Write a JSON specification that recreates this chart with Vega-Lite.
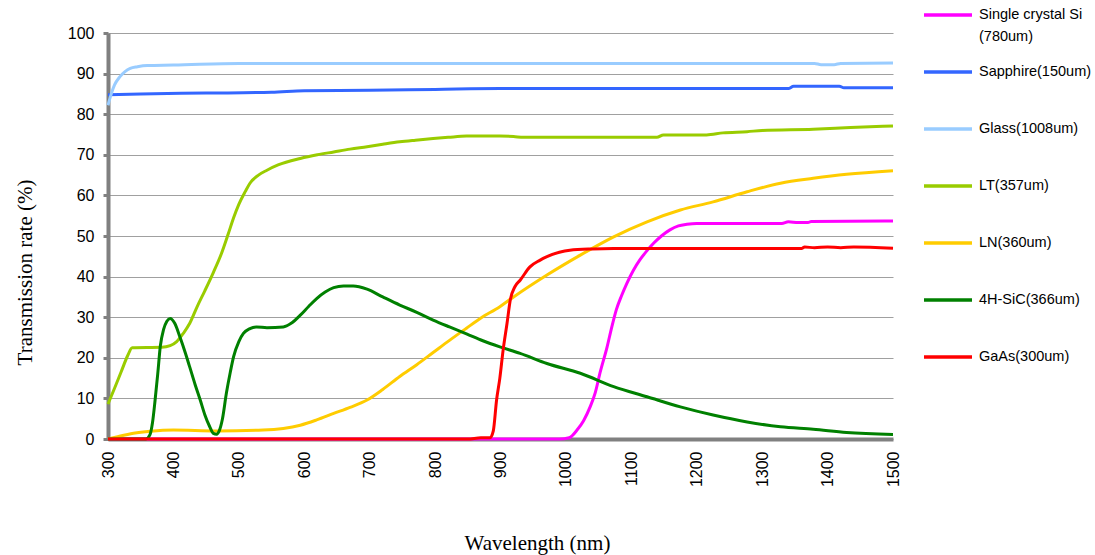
{
  "$schema": "https://vega.github.io/schema/vega-lite/v6.json",
  "width": 785,
  "height": 406,
  "autosize": {"type": "none"},
  "padding": {"left": 108, "top": 33, "right": 202, "bottom": 116},
  "background": "white",
  "datasets": {
    "curves": [
      {"s": "Single crystal Si (780um)", "w": 300, "t": 0},
      {"s": "Single crystal Si (780um)", "w": 990, "t": 0},
      {"s": "Single crystal Si (780um)", "w": 1005, "t": 0.3},
      {"s": "Single crystal Si (780um)", "w": 1017, "t": 2.2},
      {"s": "Single crystal Si (780um)", "w": 1027, "t": 4.5},
      {"s": "Single crystal Si (780um)", "w": 1037, "t": 7.9},
      {"s": "Single crystal Si (780um)", "w": 1045, "t": 11.5},
      {"s": "Single crystal Si (780um)", "w": 1052, "t": 16.2},
      {"s": "Single crystal Si (780um)", "w": 1063, "t": 22.7},
      {"s": "Single crystal Si (780um)", "w": 1070, "t": 27.5},
      {"s": "Single crystal Si (780um)", "w": 1077, "t": 31.8},
      {"s": "Single crystal Si (780um)", "w": 1085, "t": 35.3},
      {"s": "Single crystal Si (780um)", "w": 1093, "t": 38.3},
      {"s": "Single crystal Si (780um)", "w": 1103, "t": 41.5},
      {"s": "Single crystal Si (780um)", "w": 1113, "t": 44.1},
      {"s": "Single crystal Si (780um)", "w": 1124, "t": 46.4},
      {"s": "Single crystal Si (780um)", "w": 1134, "t": 48.2},
      {"s": "Single crystal Si (780um)", "w": 1146, "t": 50.0},
      {"s": "Single crystal Si (780um)", "w": 1159, "t": 51.5},
      {"s": "Single crystal Si (780um)", "w": 1172, "t": 52.5},
      {"s": "Single crystal Si (780um)", "w": 1185, "t": 52.9},
      {"s": "Single crystal Si (780um)", "w": 1200, "t": 53.1},
      {"s": "Single crystal Si (780um)", "w": 1330, "t": 53.1},
      {"s": "Single crystal Si (780um)", "w": 1340, "t": 53.5},
      {"s": "Single crystal Si (780um)", "w": 1355, "t": 53.3},
      {"s": "Single crystal Si (780um)", "w": 1370, "t": 53.3},
      {"s": "Single crystal Si (780um)", "w": 1375, "t": 53.6},
      {"s": "Single crystal Si (780um)", "w": 1500, "t": 53.7},

      {"s": "Sapphire(150um)", "w": 300, "t": 84.8},
      {"s": "Sapphire(150um)", "w": 350, "t": 85.0},
      {"s": "Sapphire(150um)", "w": 450, "t": 85.2},
      {"s": "Sapphire(150um)", "w": 550, "t": 85.4},
      {"s": "Sapphire(150um)", "w": 600, "t": 85.8},
      {"s": "Sapphire(150um)", "w": 700, "t": 85.9},
      {"s": "Sapphire(150um)", "w": 800, "t": 86.1},
      {"s": "Sapphire(150um)", "w": 900, "t": 86.3},
      {"s": "Sapphire(150um)", "w": 1340, "t": 86.3},
      {"s": "Sapphire(150um)", "w": 1348, "t": 86.9},
      {"s": "Sapphire(150um)", "w": 1418, "t": 86.9},
      {"s": "Sapphire(150um)", "w": 1425, "t": 86.5},
      {"s": "Sapphire(150um)", "w": 1500, "t": 86.5},

      {"s": "Glass(1008um)", "w": 300, "t": 82.2},
      {"s": "Glass(1008um)", "w": 305, "t": 85.0},
      {"s": "Glass(1008um)", "w": 310, "t": 87.2},
      {"s": "Glass(1008um)", "w": 318, "t": 89.2},
      {"s": "Glass(1008um)", "w": 326, "t": 90.5},
      {"s": "Glass(1008um)", "w": 334, "t": 91.3},
      {"s": "Glass(1008um)", "w": 345, "t": 91.7},
      {"s": "Glass(1008um)", "w": 360, "t": 92.0},
      {"s": "Glass(1008um)", "w": 400, "t": 92.1},
      {"s": "Glass(1008um)", "w": 500, "t": 92.5},
      {"s": "Glass(1008um)", "w": 1380, "t": 92.5},
      {"s": "Glass(1008um)", "w": 1390, "t": 92.2},
      {"s": "Glass(1008um)", "w": 1410, "t": 92.2},
      {"s": "Glass(1008um)", "w": 1420, "t": 92.5},
      {"s": "Glass(1008um)", "w": 1500, "t": 92.6},

      {"s": "LT(357um)", "w": 300, "t": 8.6},
      {"s": "LT(357um)", "w": 310, "t": 12.5},
      {"s": "LT(357um)", "w": 320, "t": 16.5},
      {"s": "LT(357um)", "w": 330, "t": 20.5},
      {"s": "LT(357um)", "w": 337, "t": 22.5},
      {"s": "LT(357um)", "w": 382, "t": 22.6},
      {"s": "LT(357um)", "w": 395, "t": 23.0},
      {"s": "LT(357um)", "w": 405, "t": 24.0},
      {"s": "LT(357um)", "w": 415, "t": 26.0},
      {"s": "LT(357um)", "w": 425, "t": 28.5},
      {"s": "LT(357um)", "w": 436, "t": 32.5},
      {"s": "LT(357um)", "w": 448, "t": 36.5},
      {"s": "LT(357um)", "w": 461, "t": 41.0},
      {"s": "LT(357um)", "w": 473, "t": 45.5},
      {"s": "LT(357um)", "w": 484, "t": 50.6},
      {"s": "LT(357um)", "w": 492, "t": 54.5},
      {"s": "LT(357um)", "w": 500, "t": 57.8},
      {"s": "LT(357um)", "w": 510, "t": 61.0},
      {"s": "LT(357um)", "w": 517, "t": 63.0},
      {"s": "LT(357um)", "w": 530, "t": 65.0},
      {"s": "LT(357um)", "w": 543, "t": 66.2},
      {"s": "LT(357um)", "w": 560, "t": 67.5},
      {"s": "LT(357um)", "w": 594, "t": 69.1},
      {"s": "LT(357um)", "w": 620, "t": 70.0},
      {"s": "LT(357um)", "w": 645, "t": 70.7},
      {"s": "LT(357um)", "w": 670, "t": 71.4},
      {"s": "LT(357um)", "w": 696, "t": 72.0},
      {"s": "LT(357um)", "w": 720, "t": 72.6},
      {"s": "LT(357um)", "w": 746, "t": 73.2},
      {"s": "LT(357um)", "w": 770, "t": 73.6},
      {"s": "LT(357um)", "w": 797, "t": 74.0},
      {"s": "LT(357um)", "w": 820, "t": 74.3},
      {"s": "LT(357um)", "w": 848, "t": 74.6},
      {"s": "LT(357um)", "w": 899, "t": 74.6},
      {"s": "LT(357um)", "w": 920, "t": 74.5},
      {"s": "LT(357um)", "w": 935, "t": 74.3},
      {"s": "LT(357um)", "w": 1139, "t": 74.3},
      {"s": "LT(357um)", "w": 1149, "t": 74.9},
      {"s": "LT(357um)", "w": 1215, "t": 74.9},
      {"s": "LT(357um)", "w": 1240, "t": 75.4},
      {"s": "LT(357um)", "w": 1277, "t": 75.7},
      {"s": "LT(357um)", "w": 1300, "t": 76.0},
      {"s": "LT(357um)", "w": 1378, "t": 76.3},
      {"s": "LT(357um)", "w": 1435, "t": 76.7},
      {"s": "LT(357um)", "w": 1500, "t": 77.1},

      {"s": "LN(360um)", "w": 300, "t": 0},
      {"s": "LN(360um)", "w": 313, "t": 0.5},
      {"s": "LN(360um)", "w": 339, "t": 1.4},
      {"s": "LN(360um)", "w": 365, "t": 1.9},
      {"s": "LN(360um)", "w": 400, "t": 2.2},
      {"s": "LN(360um)", "w": 466, "t": 2.0},
      {"s": "LN(360um)", "w": 537, "t": 2.2},
      {"s": "LN(360um)", "w": 568, "t": 2.6},
      {"s": "LN(360um)", "w": 594, "t": 3.4},
      {"s": "LN(360um)", "w": 619, "t": 4.7},
      {"s": "LN(360um)", "w": 645, "t": 6.3},
      {"s": "LN(360um)", "w": 670, "t": 7.8},
      {"s": "LN(360um)", "w": 696, "t": 9.6},
      {"s": "LN(360um)", "w": 720, "t": 12.2},
      {"s": "LN(360um)", "w": 746, "t": 15.4},
      {"s": "LN(360um)", "w": 772, "t": 18.3},
      {"s": "LN(360um)", "w": 797, "t": 21.3},
      {"s": "LN(360um)", "w": 822, "t": 24.3},
      {"s": "LN(360um)", "w": 848, "t": 27.3},
      {"s": "LN(360um)", "w": 869, "t": 29.7},
      {"s": "LN(360um)", "w": 899, "t": 32.6},
      {"s": "LN(360um)", "w": 920, "t": 35.0},
      {"s": "LN(360um)", "w": 971, "t": 40.4},
      {"s": "LN(360um)", "w": 1022, "t": 45.3},
      {"s": "LN(360um)", "w": 1073, "t": 49.8},
      {"s": "LN(360um)", "w": 1124, "t": 53.5},
      {"s": "LN(360um)", "w": 1175, "t": 56.4},
      {"s": "LN(360um)", "w": 1225, "t": 58.4},
      {"s": "LN(360um)", "w": 1277, "t": 60.9},
      {"s": "LN(360um)", "w": 1328, "t": 63.0},
      {"s": "LN(360um)", "w": 1378, "t": 64.2},
      {"s": "LN(360um)", "w": 1429, "t": 65.2},
      {"s": "LN(360um)", "w": 1500, "t": 66.1},

      {"s": "4H-SiC(366um)", "w": 300, "t": 0},
      {"s": "4H-SiC(366um)", "w": 358, "t": 0},
      {"s": "4H-SiC(366um)", "w": 364, "t": 1.0},
      {"s": "4H-SiC(366um)", "w": 368, "t": 4.0},
      {"s": "4H-SiC(366um)", "w": 372, "t": 9.6},
      {"s": "4H-SiC(366um)", "w": 376, "t": 16.0},
      {"s": "4H-SiC(366um)", "w": 380, "t": 22.9},
      {"s": "4H-SiC(366um)", "w": 385, "t": 27.0},
      {"s": "4H-SiC(366um)", "w": 390, "t": 29.0},
      {"s": "4H-SiC(366um)", "w": 395, "t": 29.7},
      {"s": "4H-SiC(366um)", "w": 402, "t": 28.5},
      {"s": "4H-SiC(366um)", "w": 410, "t": 25.1},
      {"s": "4H-SiC(366um)", "w": 418, "t": 21.3},
      {"s": "4H-SiC(366um)", "w": 425, "t": 17.7},
      {"s": "4H-SiC(366um)", "w": 433, "t": 13.5},
      {"s": "4H-SiC(366um)", "w": 441, "t": 9.6},
      {"s": "4H-SiC(366um)", "w": 448, "t": 6.0},
      {"s": "4H-SiC(366um)", "w": 455, "t": 3.2},
      {"s": "4H-SiC(366um)", "w": 461, "t": 1.4},
      {"s": "4H-SiC(366um)", "w": 466, "t": 1.2},
      {"s": "4H-SiC(366um)", "w": 470, "t": 2.0},
      {"s": "4H-SiC(366um)", "w": 475, "t": 5.0},
      {"s": "4H-SiC(366um)", "w": 481, "t": 11.3},
      {"s": "4H-SiC(366um)", "w": 487, "t": 16.5},
      {"s": "4H-SiC(366um)", "w": 492, "t": 20.3},
      {"s": "4H-SiC(366um)", "w": 500, "t": 24.0},
      {"s": "4H-SiC(366um)", "w": 507, "t": 26.0},
      {"s": "4H-SiC(366um)", "w": 517, "t": 27.2},
      {"s": "4H-SiC(366um)", "w": 527, "t": 27.6},
      {"s": "4H-SiC(366um)", "w": 543, "t": 27.4},
      {"s": "4H-SiC(366um)", "w": 568, "t": 27.6},
      {"s": "4H-SiC(366um)", "w": 580, "t": 28.5},
      {"s": "4H-SiC(366um)", "w": 594, "t": 30.5},
      {"s": "4H-SiC(366um)", "w": 607, "t": 32.7},
      {"s": "4H-SiC(366um)", "w": 619, "t": 34.6},
      {"s": "4H-SiC(366um)", "w": 632, "t": 36.2},
      {"s": "4H-SiC(366um)", "w": 645, "t": 37.3},
      {"s": "4H-SiC(366um)", "w": 660, "t": 37.7},
      {"s": "4H-SiC(366um)", "w": 675, "t": 37.7},
      {"s": "4H-SiC(366um)", "w": 696, "t": 36.9},
      {"s": "4H-SiC(366um)", "w": 720, "t": 35.0},
      {"s": "4H-SiC(366um)", "w": 746, "t": 33.0},
      {"s": "4H-SiC(366um)", "w": 772, "t": 31.2},
      {"s": "4H-SiC(366um)", "w": 797, "t": 29.3},
      {"s": "4H-SiC(366um)", "w": 822, "t": 27.6},
      {"s": "4H-SiC(366um)", "w": 848, "t": 25.9},
      {"s": "4H-SiC(366um)", "w": 873, "t": 24.2},
      {"s": "4H-SiC(366um)", "w": 899, "t": 22.7},
      {"s": "4H-SiC(366um)", "w": 930, "t": 21.1},
      {"s": "4H-SiC(366um)", "w": 971, "t": 18.6},
      {"s": "4H-SiC(366um)", "w": 1022, "t": 16.2},
      {"s": "4H-SiC(366um)", "w": 1073, "t": 12.9},
      {"s": "4H-SiC(366um)", "w": 1124, "t": 10.4},
      {"s": "4H-SiC(366um)", "w": 1175, "t": 7.9},
      {"s": "4H-SiC(366um)", "w": 1225, "t": 5.9},
      {"s": "4H-SiC(366um)", "w": 1277, "t": 4.2},
      {"s": "4H-SiC(366um)", "w": 1328, "t": 3.0},
      {"s": "4H-SiC(366um)", "w": 1378, "t": 2.4},
      {"s": "4H-SiC(366um)", "w": 1429, "t": 1.6},
      {"s": "4H-SiC(366um)", "w": 1500, "t": 1.1},

      {"s": "GaAs(300um)", "w": 300, "t": 0},
      {"s": "GaAs(300um)", "w": 850, "t": 0},
      {"s": "GaAs(300um)", "w": 870, "t": 0.3},
      {"s": "GaAs(300um)", "w": 884, "t": 0.3},
      {"s": "GaAs(300um)", "w": 889, "t": 2.0},
      {"s": "GaAs(300um)", "w": 894, "t": 9.6},
      {"s": "GaAs(300um)", "w": 899, "t": 15.0},
      {"s": "GaAs(300um)", "w": 904, "t": 21.9},
      {"s": "GaAs(300um)", "w": 910, "t": 28.5},
      {"s": "GaAs(300um)", "w": 915, "t": 34.3},
      {"s": "GaAs(300um)", "w": 922, "t": 37.5},
      {"s": "GaAs(300um)", "w": 930, "t": 39.1},
      {"s": "GaAs(300um)", "w": 945, "t": 42.4},
      {"s": "GaAs(300um)", "w": 960, "t": 44.0},
      {"s": "GaAs(300um)", "w": 971, "t": 44.9},
      {"s": "GaAs(300um)", "w": 990, "t": 46.0},
      {"s": "GaAs(300um)", "w": 1006, "t": 46.5},
      {"s": "GaAs(300um)", "w": 1040, "t": 46.8},
      {"s": "GaAs(300um)", "w": 1073, "t": 46.9},
      {"s": "GaAs(300um)", "w": 1360, "t": 46.9},
      {"s": "GaAs(300um)", "w": 1365, "t": 47.3},
      {"s": "GaAs(300um)", "w": 1380, "t": 47.1},
      {"s": "GaAs(300um)", "w": 1400, "t": 47.3},
      {"s": "GaAs(300um)", "w": 1420, "t": 47.1},
      {"s": "GaAs(300um)", "w": 1440, "t": 47.3},
      {"s": "GaAs(300um)", "w": 1500, "t": 47.0}
    ]
  },
  "data": {"name": "curves"},
  "mark": {"type": "line", "strokeWidth": 3, "interpolate": "monotone"},
  "encoding": {
    "x": {
      "field": "w", "type": "quantitative",
      "scale": {"domain": [300, 1500], "nice": false, "zero": false},
      "axis": {
        "title": "Wavelength (nm)", "format": "d",
        "values": [300, 400, 500, 600, 700, 800, 900, 1000, 1100, 1200, 1300, 1400, 1500],
        "labelAngle": -90, "labelFont": "Liberation Sans", "labelFontSize": 16, "labelColor": "black",
        "labelPadding": 12, "ticks": false, "grid": false,
        "domainColor": "#808080", "domainWidth": 4,
        "titleFont": "Liberation Serif", "titleFontSize": 21, "titleFontWeight": "normal", "titleColor": "black",
        "titleX": 429, "titleY": 93, "titleAnchor": "middle", "titleBaseline": "top",
        "labelOverlap": false
      }
    },
    "y": {
      "field": "t", "type": "quantitative",
      "scale": {"domain": [0, 100], "nice": false},
      "axis": {
        "title": "Transmission rate (%)",
        "values": [0, 10, 20, 30, 40, 50, 60, 70, 80, 90, 100],
        "labelFont": "Liberation Sans", "labelFontSize": 16, "labelColor": "black", "labelPadding": 9,
        "ticks": true, "tickSize": 5, "tickWidth": 3, "tickColor": "#808080",
        "grid": true, "gridColor": "#a0a0a0", "gridWidth": 1,
        "domainColor": "#808080", "domainWidth": 4,
        "titleFont": "Liberation Serif", "titleFontSize": 21, "titleFontWeight": "normal", "titleColor": "black",
        "titlePadding": 32, "titleY": 239, "titleAnchor": "middle"
      }
    },
    "color": {
      "field": "s", "type": "nominal", "sort": null,
      "scale": {
        "domain": ["Single crystal Si (780um)", "Sapphire(150um)", "Glass(1008um)", "LT(357um)", "LN(360um)", "4H-SiC(366um)", "GaAs(300um)"],
        "range": ["#FF00FF", "#3366FF", "#99CCFF", "#99CC00", "#FFCC00", "#008000", "#FF0000"]
      },
      "legend": {
        "title": null, "orient": "none", "legendX": 814, "legendY": -44,
        "symbolType": "stroke", "symbolSize": 2304, "symbolStrokeWidth": 3.5,
        "labelFont": "Liberation Sans", "labelFontSize": 14.5, "labelColor": "black", "labelOffset": 5,
        "labelLimit": 300, "rowPadding": 2, "padding": 0, "gridAlign": "all",
        "labelExpr": "datum.label == 'Single crystal Si (780um)' ? ['Single crystal Si', '(780um)'] : datum.label",
        "encode": {"labels": {"update": {"lineHeight": {"value": 22}}}}
      }
    }
  },
  "config": {"view": {"stroke": null}}
}
